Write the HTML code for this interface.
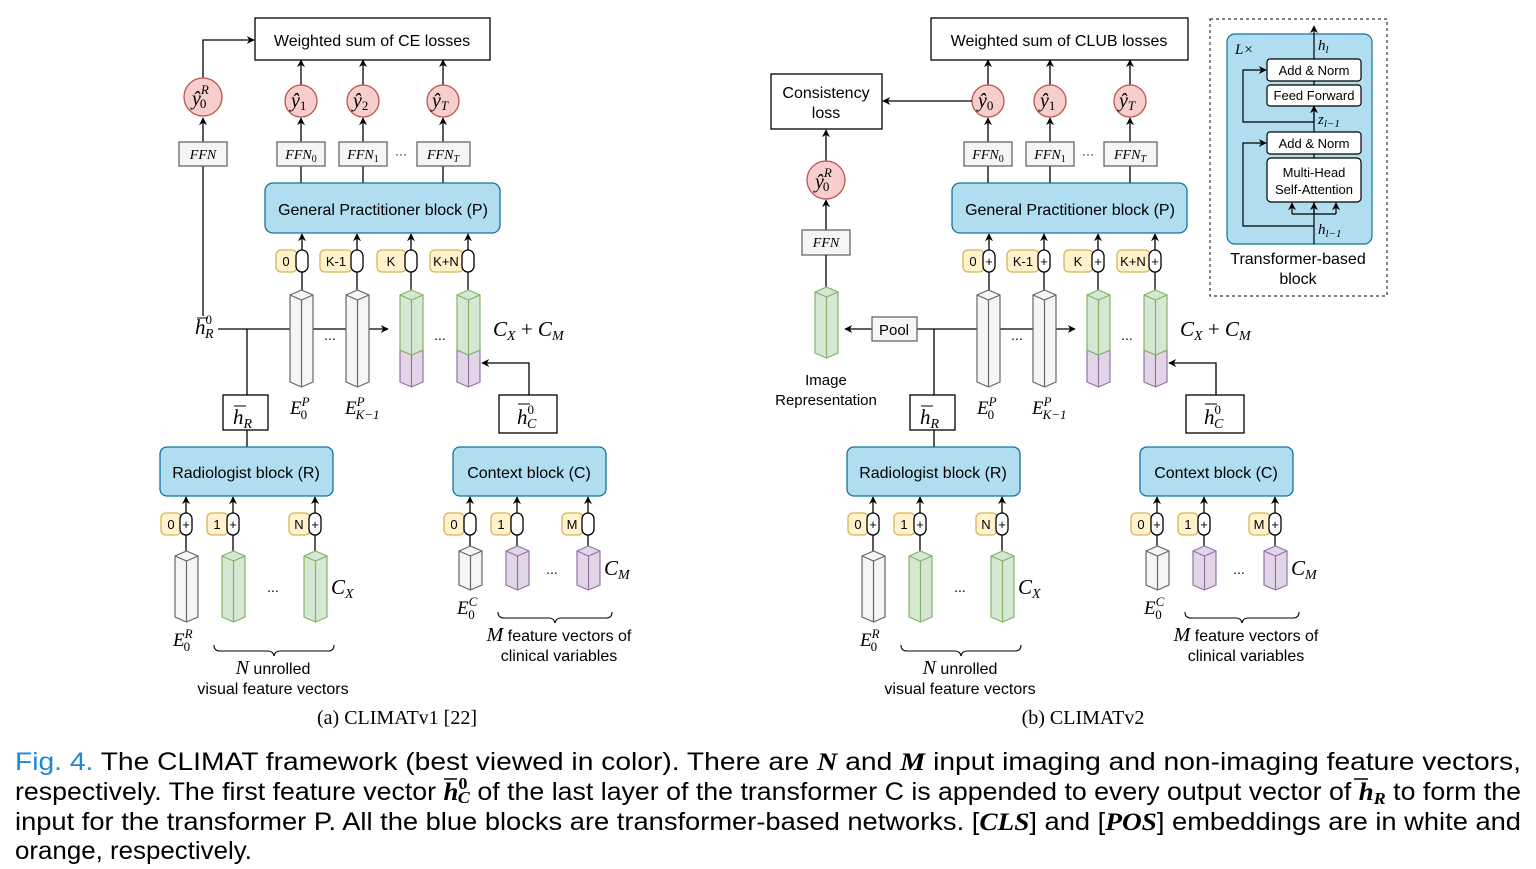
<!DOCTYPE html>
<html><head><meta charset="utf-8">
<style>
html,body{margin:0;padding:0;background:#fff;}
svg{display:block;}
.s{font-family:"Liberation Sans",sans-serif;}
.m{font-family:"Liberation Serif",serif;font-style:italic;}
</style></head><body>
<svg width="1536" height="869" viewBox="0 0 1536 869" xmlns="http://www.w3.org/2000/svg">
<defs>
<marker id="ar" viewBox="0 0 10 10" refX="9" refY="5" markerWidth="8" markerHeight="8" orient="auto-start-reverse" markerUnits="userSpaceOnUse">
<path d="M0,0 L10,5 L0,10 L3,5 Z" fill="#000"/></marker>
<g id="pw">
<path d="M0,5 L11.5,0 L23,5 L23,92 L11.5,97 L0,92 Z" fill="#f5f5f5" stroke="#666" stroke-width="1.2"/>
<path d="M0,5 L11.5,10 L23,5 M11.5,10 V97" fill="none" stroke="#666" stroke-width="1.2"/></g>
<g id="pgp">
<path d="M0,60 L0,92 L11.5,97 L23,92 L23,60 L11.5,65 Z" fill="#e1d5e7" stroke="#9673a6" stroke-width="1.2"/>
<path d="M11.5,65 V97" stroke="#9673a6" stroke-width="1.2"/>
<path d="M0,5 L11.5,0 L23,5 L23,60 L11.5,65 L0,60 Z" fill="#d5e8d4" stroke="#82b366" stroke-width="1.2"/>
<path d="M0,5 L11.5,10 L23,5 M11.5,10 V65" fill="none" stroke="#82b366" stroke-width="1.2"/></g>
<g id="pws">
<path d="M0,5 L11.5,0 L23,5 L23,66 L11.5,71 L0,66 Z" fill="#f5f5f5" stroke="#666" stroke-width="1.2"/>
<path d="M0,5 L11.5,10 L23,5 M11.5,10 V71" fill="none" stroke="#666" stroke-width="1.2"/></g>
<g id="pgs">
<path d="M0,5 L11.5,0 L23,5 L23,66 L11.5,71 L0,66 Z" fill="#d5e8d4" stroke="#82b366" stroke-width="1.2"/>
<path d="M0,5 L11.5,10 L23,5 M11.5,10 V71" fill="none" stroke="#82b366" stroke-width="1.2"/></g>
<g id="pwc">
<path d="M0,5 L11.5,0 L23,5 L23,39 L11.5,44 L0,39 Z" fill="#f5f5f5" stroke="#666" stroke-width="1.2"/>
<path d="M0,5 L11.5,10 L23,5 M11.5,10 V44" fill="none" stroke="#666" stroke-width="1.2"/></g>
<g id="ppc">
<path d="M0,5 L11.5,0 L23,5 L23,39 L11.5,44 L0,39 Z" fill="#e1d5e7" stroke="#9673a6" stroke-width="1.2"/>
<path d="M0,5 L11.5,10 L23,5 M11.5,10 V44" fill="none" stroke="#9673a6" stroke-width="1.2"/></g>
<rect id="pill" x="-6" y="0" width="12" height="22" rx="6" fill="#fff" stroke="#000" stroke-width="1.3"/>

<g id="shared" stroke="#000" stroke-width="1.3" fill="none">
 <path d="M301,166 V183 M363,166 V183 M443,166 V183"/>
 <path d="M301,142 V118" marker-end="url(#ar)"/>
 <path d="M363,142 V118" marker-end="url(#ar)"/>
 <path d="M443,142 V118" marker-end="url(#ar)"/>
 <path d="M301,85 V60" marker-end="url(#ar)"/>
 <path d="M363,85 V60" marker-end="url(#ar)"/>
 <path d="M443,85 V60" marker-end="url(#ar)"/>
 <circle cx="301" cy="101" r="16" fill="#f8cecc" stroke="#b85450"/>
 <circle cx="363" cy="101" r="16" fill="#f8cecc" stroke="#b85450"/>
 <circle cx="443" cy="101" r="16" fill="#f8cecc" stroke="#b85450"/>
 <rect x="277" y="142" width="48" height="24" fill="#f5f5f5" stroke="#666"/>
 <rect x="339" y="142" width="48" height="24" fill="#f5f5f5" stroke="#666"/>
 <rect x="417" y="142" width="53" height="24" fill="#f5f5f5" stroke="#666"/>
 <g stroke="none" fill="#000">
  <text class="m" x="301" y="159" font-size="14" text-anchor="middle">FFN<tspan font-size="10" dy="3" font-style="normal">0</tspan></text>
  <text class="m" x="363" y="159" font-size="14" text-anchor="middle">FFN<tspan font-size="10" dy="3" font-style="normal">1</tspan></text>
  <text class="m" x="443" y="159" font-size="14" text-anchor="middle">FFN<tspan font-size="10" dy="3">T</tspan></text>
  <text class="s" x="401" y="158" font-size="12" text-anchor="middle">···</text>
 </g>
 <rect x="265" y="183" width="235" height="50" rx="8" fill="#b1ddf0" stroke="#10739e"/>
 <text class="s" x="383" y="215" font-size="16" text-anchor="middle" fill="#000" stroke="none">General Practitioner block (P)</text>
 <path d="M302,250 V234" marker-end="url(#ar)"/>
 <path d="M357,250 V234" marker-end="url(#ar)"/>
 <path d="M411,250 V234" marker-end="url(#ar)"/>
 <path d="M468,250 V234" marker-end="url(#ar)"/>
 <path d="M302,272 V290 M357,272 V290 M411,272 V290 M468,272 V290"/>
 <rect x="276" y="250" width="21" height="22" rx="5" fill="#fff2cc" stroke="#d6b656"/>
 <rect x="320" y="250" width="32" height="22" rx="5" fill="#fff2cc" stroke="#d6b656"/>
 <rect x="377" y="250" width="29" height="22" rx="5" fill="#fff2cc" stroke="#d6b656"/>
 <rect x="430" y="250" width="33" height="22" rx="5" fill="#fff2cc" stroke="#d6b656"/>
 <use href="#pill" x="302" y="250"/><use href="#pill" x="357" y="250"/><use href="#pill" x="411" y="250"/><use href="#pill" x="468" y="250"/>
 <g class="s" font-size="13" fill="#000" stroke="none" text-anchor="middle">
  <text x="286" y="266">0</text><text x="336" y="266">K-1</text><text x="391" y="266">K</text><text x="446" y="266">K+N</text>
 </g>
 <path d="M247,329 H388" marker-end="url(#ar)"/>
 <path d="M247,329 V395"/>
 <use href="#pw" x="290" y="290"/><use href="#pw" x="346" y="290"/>
 <use href="#pgp" x="400" y="290"/><use href="#pgp" x="457" y="290"/>
 <g fill="#000" stroke="none">
  <text class="s" x="330" y="340" font-size="14" text-anchor="middle">...</text>
  <text class="s" x="440" y="340" font-size="14" text-anchor="middle">...</text>
  <text class="m" x="493" y="336" font-size="21">C<tspan font-size="14" dy="4">X</tspan><tspan dy="-4" font-style="normal"> + </tspan>C<tspan font-size="14" dy="4">M</tspan></text>
  <text class="m" x="290" y="414" font-size="19">E<tspan font-size="13" dy="-8">P</tspan><tspan font-size="13" dx="-9" dy="13" font-style="normal">0</tspan></text>
  <text class="m" x="345" y="414" font-size="19">E<tspan font-size="13" dy="-8">P</tspan><tspan font-size="13" dx="-9" dy="13">K−1</tspan></text>
 </g>
 <rect x="223" y="395" width="45" height="35" fill="#fff"/>
 <path d="M234,406 H246" stroke-width="1"/>
 <text class="m" x="233" y="424" font-size="21" fill="#000" stroke="none">h<tspan font-size="14" dy="4">R</tspan></text>
 <path d="M247,430 V447"/>
 <rect x="499" y="395" width="58" height="38" fill="#fff"/>
 <path d="M518,404 H530" stroke-width="1"/>
 <text class="m" x="517" y="424" font-size="21" fill="#000" stroke="none">h<tspan font-size="13" dy="-10" font-style="normal">0</tspan><tspan font-size="14" dx="-7" dy="14">C</tspan></text>
 <path d="M529,395 V363 H482" marker-end="url(#ar)"/>
 <rect x="160" y="447" width="173" height="49" rx="7" fill="#b1ddf0" stroke="#10739e"/>
 <text class="s" x="246" y="478" font-size="16" text-anchor="middle" fill="#000" stroke="none">Radiologist block (R)</text>
 <rect x="453" y="447" width="153" height="49" rx="7" fill="#b1ddf0" stroke="#10739e"/>
 <text class="s" x="529" y="478" font-size="16" text-anchor="middle" fill="#000" stroke="none">Context block (C)</text>
 <path d="M186,513 V497" marker-end="url(#ar)"/>
 <path d="M233,513 V497" marker-end="url(#ar)"/>
 <path d="M315,513 V497" marker-end="url(#ar)"/>
 <path d="M470,513 V497" marker-end="url(#ar)"/>
 <path d="M517,513 V497" marker-end="url(#ar)"/>
 <path d="M588,513 V497" marker-end="url(#ar)"/>
 <path d="M186,535 V551 M233,535 V551 M315,535 V551 M470,535 V546 M517,535 V546 M588,535 V546"/>
 <rect x="161" y="513" width="20" height="22" rx="5" fill="#fff2cc" stroke="#d6b656"/>
 <rect x="207" y="513" width="21" height="22" rx="5" fill="#fff2cc" stroke="#d6b656"/>
 <rect x="289" y="513" width="21" height="22" rx="5" fill="#fff2cc" stroke="#d6b656"/>
 <rect x="444" y="513" width="20" height="22" rx="5" fill="#fff2cc" stroke="#d6b656"/>
 <rect x="491" y="513" width="20" height="22" rx="5" fill="#fff2cc" stroke="#d6b656"/>
 <rect x="562" y="513" width="21" height="22" rx="5" fill="#fff2cc" stroke="#d6b656"/>
 <use href="#pill" x="186" y="513"/><use href="#pill" x="233" y="513"/><use href="#pill" x="315" y="513"/>
 <use href="#pill" x="470" y="513"/><use href="#pill" x="517" y="513"/><use href="#pill" x="588" y="513"/>
 <g class="s" font-size="13" fill="#000" stroke="none" text-anchor="middle">
  <text x="171" y="529">0</text><text x="217" y="529">1</text><text x="299" y="529">N</text>
  <text x="454" y="529">0</text><text x="501" y="529">1</text><text x="572" y="529">M</text>
  <text x="186" y="529">+</text><text x="233" y="529">+</text><text x="315" y="529">+</text>
 </g>
 <use href="#pws" x="175" y="551"/><use href="#pgs" x="222" y="551"/><use href="#pgs" x="304" y="551"/>
 <use href="#pwc" x="459" y="546"/><use href="#ppc" x="506" y="546"/><use href="#ppc" x="577" y="546"/>
 <g fill="#000" stroke="none">
  <text class="s" x="273" y="592" font-size="14" text-anchor="middle">...</text>
  <text class="s" x="552" y="574" font-size="14" text-anchor="middle">...</text>
  <text class="m" x="331" y="594" font-size="21">C<tspan font-size="14" dy="4">X</tspan></text>
  <text class="m" x="604" y="575" font-size="21">C<tspan font-size="14" dy="4">M</tspan></text>
  <text class="m" x="173" y="646" font-size="19">E<tspan font-size="13" dy="-8">R</tspan><tspan font-size="13" dx="-9" dy="13" font-style="normal">0</tspan></text>
  <text class="m" x="457" y="614" font-size="19">E<tspan font-size="13" dy="-8">C</tspan><tspan font-size="13" dx="-9" dy="13" font-style="normal">0</tspan></text>
  <text class="s" x="273" y="674" font-size="16" text-anchor="middle"><tspan class="m" font-size="20">N</tspan> unrolled</text>
  <text class="s" x="273" y="694" font-size="16" text-anchor="middle">visual feature vectors</text>
  <text class="s" x="559" y="641" font-size="16" text-anchor="middle"><tspan class="m" font-size="20">M</tspan> feature vectors of</text>
  <text class="s" x="559" y="661" font-size="16" text-anchor="middle">clinical variables</text>
 </g>
 <path d="M214,645 Q214,651 220,651 H268 Q273,651 274,656 Q275,651 280,651 H328 Q334,651 334,645" stroke-width="1.1"/>
 <path d="M498,612 Q498,618 504,618 H549 Q554,618 555,623 Q556,618 561,618 H606 Q612,618 612,612" stroke-width="1.1"/>
</g>
</defs>

<use href="#shared"/>
<g stroke="#000" stroke-width="1.3" fill="none">
 <rect x="255" y="18" width="235" height="42" fill="#fff"/>
 <path d="M218,329 H247"/>
 <path d="M203,316 V166"/>
 <path d="M203,78 V40 H254" marker-end="url(#ar)"/>
 <path d="M203,142 V118" marker-end="url(#ar)"/>
 <circle cx="203" cy="97" r="19" fill="#f8cecc" stroke="#b85450"/>
 <rect x="179" y="142" width="48" height="24" fill="#f5f5f5" stroke="#666"/>
 <path d="M197,318 H208" stroke-width="1"/>
</g>
<g fill="#000">
 <text class="s" x="372" y="46" font-size="16" text-anchor="middle">Weighted sum of CE losses</text>
 <text class="m" x="203" y="159" font-size="14" text-anchor="middle">FFN</text>
 <text class="m" x="192" y="105" font-size="20">ŷ<tspan font-size="13" dy="-11">R</tspan><tspan font-size="13" dx="-9" dy="14" font-style="normal">0</tspan></text>
 <text class="m" x="291" y="107" font-size="20">ŷ<tspan font-size="13" dy="3" font-style="normal">1</tspan></text>
 <text class="m" x="353" y="107" font-size="20">ŷ<tspan font-size="13" dy="3" font-style="normal">2</tspan></text>
 <text class="m" x="432" y="107" font-size="20">ŷ<tspan font-size="13" dy="3">T</tspan></text>
 <text class="m" x="195" y="334" font-size="21">h<tspan font-size="13" dy="-10" font-style="normal">0</tspan><tspan font-size="14" dx="-7" dy="14">R</tspan></text>
 <text x="397" y="724" font-family="Liberation Serif,serif" font-size="20" text-anchor="middle">(a) CLIMATv1  [22]</text>
</g>

<use href="#shared" x="687"/>
<g class="s" font-size="13" fill="#000" text-anchor="middle">
 <text x="989" y="266">+</text><text x="1044" y="266">+</text><text x="1098" y="266">+</text><text x="1155" y="266">+</text>
 <text x="1157" y="529">+</text><text x="1204" y="529">+</text><text x="1275" y="529">+</text>
</g>
<g stroke="#000" stroke-width="1.3" fill="none">
 <rect x="931" y="18" width="257" height="42" fill="#fff"/>
 <rect x="771" y="74" width="111" height="55" fill="#fff"/>
 <path d="M972,101 H883" marker-end="url(#ar)"/>
 <path d="M826,161 V130" marker-end="url(#ar)"/>
 <path d="M826,230 V200" marker-end="url(#ar)"/>
 <circle cx="826" cy="180" r="19" fill="#f8cecc" stroke="#b85450"/>
 <rect x="802" y="230" width="48" height="25" fill="#f5f5f5" stroke="#666"/>
 <path d="M826,255 V287"/>
 <use href="#pgs" x="815" y="287"/>
 <path d="M917,329 H934"/>
 <path d="M872,329 H845" marker-end="url(#ar)"/>
 <rect x="872" y="317" width="45" height="24" fill="#f5f5f5" stroke="#666"/>
</g>
<g fill="#000">
 <text class="s" x="1059" y="46" font-size="16" text-anchor="middle">Weighted sum of CLUB losses</text>
 <text class="s" x="826" y="98" font-size="16" text-anchor="middle">Consistency</text>
 <text class="s" x="826" y="118" font-size="16" text-anchor="middle">loss</text>
 <text class="m" x="826" y="247" font-size="14" text-anchor="middle">FFN</text>
 <text class="m" x="815" y="188" font-size="20">ŷ<tspan font-size="13" dy="-11">R</tspan><tspan font-size="13" dx="-9" dy="14" font-style="normal">0</tspan></text>
 <text class="m" x="978" y="107" font-size="20">ŷ<tspan font-size="13" dy="3" font-style="normal">0</tspan></text>
 <text class="m" x="1040" y="107" font-size="20">ŷ<tspan font-size="13" dy="3" font-style="normal">1</tspan></text>
 <text class="m" x="1119" y="107" font-size="20">ŷ<tspan font-size="13" dy="3">T</tspan></text>
 <text class="s" x="894" y="335" font-size="15" text-anchor="middle">Pool</text>
 <text class="s" x="826" y="385" font-size="15" text-anchor="middle">Image</text>
 <text class="s" x="826" y="405" font-size="15" text-anchor="middle">Representation</text>
 <text x="1083" y="724" font-family="Liberation Serif,serif" font-size="20" text-anchor="middle">(b) CLIMATv2</text>
</g>

<rect x="1210" y="19" width="177" height="277" fill="none" stroke="#333" stroke-width="1.2" stroke-dasharray="3,3"/>
<rect x="1227" y="34" width="145" height="210" rx="8" fill="#b1ddf0" stroke="#10739e" stroke-width="1.2"/>
<g stroke="#000" stroke-width="1.2" fill="none">
 <path d="M1314,244 V26" marker-end="url(#ar)"/>
 <path d="M1314,122 H1243 V70 H1266" marker-end="url(#ar)"/>
 <path d="M1314,226 H1243 V143 H1266" marker-end="url(#ar)"/>
 <path d="M1314,122 V106" marker-end="url(#ar)"/>
 <path d="M1292,214 H1336"/>
 <path d="M1292,214 V203" marker-end="url(#ar)"/>
 <path d="M1336,214 V203" marker-end="url(#ar)"/>
 <path d="M1314,214 V203" marker-end="url(#ar)"/>
 <rect x="1267" y="59" width="94" height="22" rx="3" fill="#fff"/>
 <rect x="1267" y="85" width="94" height="21" rx="3" fill="#fff"/>
 <rect x="1267" y="132" width="94" height="22" rx="3" fill="#fff"/>
 <rect x="1267" y="158" width="94" height="44" rx="4" fill="#fff"/>
</g>
<g fill="#000" class="s" font-size="13" text-anchor="middle">
 <text x="1314" y="75">Add &amp; Norm</text>
 <text x="1314" y="100">Feed Forward</text>
 <text x="1314" y="148">Add &amp; Norm</text>
 <text x="1314" y="177">Multi-Head</text>
 <text x="1314" y="194">Self-Attention</text>
 <text x="1298" y="264" font-size="16">Transformer-based</text>
 <text x="1298" y="284" font-size="16">block</text>
</g>
<g fill="#000" class="m" font-size="15">
 <text x="1235" y="54">L×</text>
 <text x="1318" y="50">h<tspan font-size="11" dy="3">l</tspan></text>
 <text x="1318" y="124">z<tspan font-size="11" dy="3">l−1</tspan></text>
 <text x="1318" y="234">h<tspan font-size="11" dy="3">l−1</tspan></text>
</g>

<g font-family="'Liberation Sans',sans-serif" font-size="25" fill="#000">
 <text x="15" y="770" textLength="1506" lengthAdjust="spacingAndGlyphs"><tspan fill="#1a8ad8">Fig. 4.</tspan>  The CLIMAT framework (best viewed in color). There are <tspan font-family="Liberation Serif,serif" font-style="italic" font-weight="bold">N</tspan> and <tspan font-family="Liberation Serif,serif" font-style="italic" font-weight="bold">M</tspan> input imaging and non-imaging feature vectors,</text>
 <text x="15" y="800" textLength="1506" lengthAdjust="spacingAndGlyphs">respectively. The first feature vector <tspan font-family="Liberation Serif,serif" font-style="italic" font-weight="bold">h</tspan><tspan font-family="Liberation Serif,serif" font-weight="bold" font-size="17" dy="-11">0</tspan><tspan font-family="Liberation Serif,serif" font-style="italic" font-weight="bold" font-size="17" dx="-9" dy="14">C</tspan><tspan dy="-3"> of the last layer of the transformer C is appended to every output vector of </tspan><tspan font-family="Liberation Serif,serif" font-style="italic" font-weight="bold">h</tspan><tspan font-family="Liberation Serif,serif" font-style="italic" font-weight="bold" font-size="17" dy="4">R</tspan><tspan dy="-4"> to form the</tspan></text>
 <text x="15" y="830" textLength="1506" lengthAdjust="spacingAndGlyphs">input for the transformer P. All the blue blocks are transformer-based networks. [<tspan font-family="Liberation Serif,serif" font-style="italic" font-weight="bold">CLS</tspan>] and [<tspan font-family="Liberation Serif,serif" font-style="italic" font-weight="bold">POS</tspan>] embeddings are in white and</text>
 <text x="15" y="859" textLength="237" lengthAdjust="spacingAndGlyphs">orange, respectively.</text>
</g>
<path d="M444,779 H457 M1354,779 H1368" stroke="#000" stroke-width="1.5"/>
</svg>
</body></html>
